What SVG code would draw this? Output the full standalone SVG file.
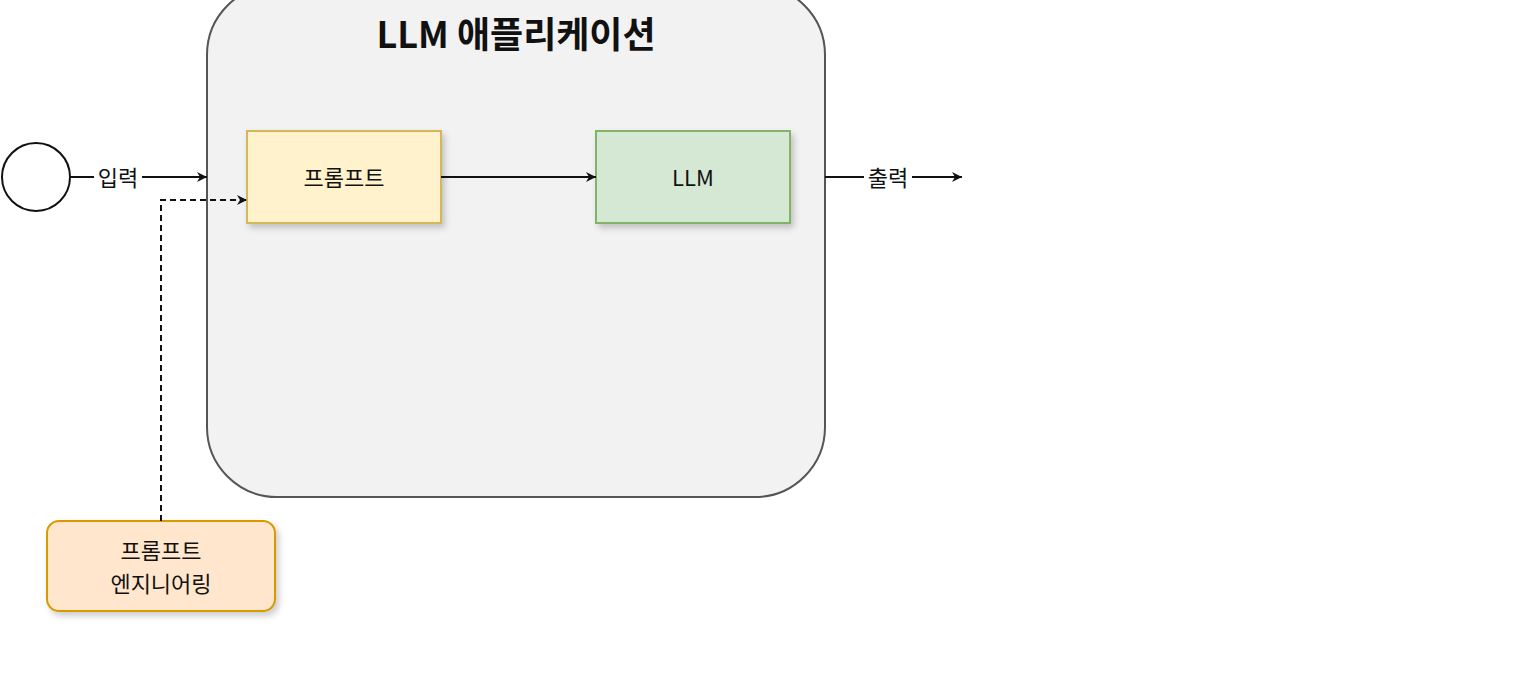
<svg xmlns="http://www.w3.org/2000/svg" width="1536" height="688" viewBox="0 0 1536 688">
<style>
text{font-family:"Noto Sans CJK KR","Liberation Sans",sans-serif;fill:#111;text-anchor:middle;dominant-baseline:central}
.ln{stroke:#111;stroke-width:2;fill:none}
</style>
<defs>
<marker id="ah" viewBox="0 0 10 10" refX="10" refY="5" markerWidth="10" markerHeight="10" markerUnits="userSpaceOnUse" orient="auto"><path d="M0,0 L10,5 L0,10 L3,5z" fill="#111"/></marker>
<filter id="sh" x="-10%" y="-10%" width="130%" height="140%"><feDropShadow dx="3" dy="4" stdDeviation="3" flood-opacity="0.2"/></filter>
</defs>
<rect width="1536" height="688" fill="#fff"/>
<g id="app"><rect x="207" y="-15" width="618" height="512" rx="70" fill="#f2f2f2" stroke="#555" stroke-width="2"/>
<text x="516" y="32" font-size="36" font-weight="bold" fill="#333">LLM 애플리케이션</text></g>
<g id="start"><circle cx="36" cy="177" r="34" fill="#fff" stroke="#111" stroke-width="2"/></g>
<g id="prompt"><rect x="247" y="131" width="194" height="92" fill="#fff2cc" stroke="#d6b656" stroke-width="2" filter="url(#sh)"/><text x="344" y="176" font-size="22">프롬프트</text></g>
<g id="llm"><rect x="596" y="131" width="194" height="92" fill="#d5e8d4" stroke="#82b366" stroke-width="2" filter="url(#sh)"/><text x="693" y="176" font-size="22">LLM</text></g>
<g id="pe"><rect x="47" y="521" width="228" height="90" rx="12" fill="#ffe6cc" stroke="#d79b00" stroke-width="2" filter="url(#sh)"/><text x="161" y="549" font-size="22">프롬프트</text><text x="161" y="582" font-size="22">엔지니어링</text></g>
<g id="connectors">
<path class="ln" d="M70,177 H94"/><path class="ln" d="M142,177 H207" marker-end="url(#ah)"/>
<text x="118" y="176" font-size="22">입력</text>
<path class="ln" d="M441,177 H596" marker-end="url(#ah)"/>
<path class="ln" d="M161,521 V200 H247" stroke-dasharray="6,4" marker-end="url(#ah)"/>
<path class="ln" d="M825,177 H864"/><path class="ln" d="M912,177 H962" marker-end="url(#ah)"/>
<text x="888" y="176" font-size="22">출력</text>
</g>
</svg>
